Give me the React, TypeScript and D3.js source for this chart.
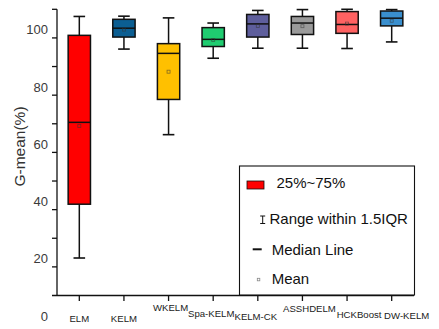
import * as d3 from 'd3'

const categories = ['ELM', 'KELM', 'WKELM', 'Spa-KELM', 'KELM-CK', 'ASSHDELM', 'HCKBoost', 'DW-KELM']
const whiskerLow = [23.1, 96.1, 66.2, 92.9, 96.4, 96.4, 96.3, 98.6]
const q1 = [41.9, 100.3, 78.5, 97.0, 100.3, 101.2, 101.6, 104.2]
const median = [70.5, 103.4, 94.6, 99.5, 104.9, 105.2, 104.7, 106.9]
const q3 = [100.9, 106.5, 98.0, 103.6, 108.2, 107.5, 109.2, 109.4]
const whiskerHigh = [107.5, 107.6, 107.0, 105.2, 109.6, 109.9, 110.0, 109.9]
const means = [69.2, 102.9, 88.2, 99.3, 104.2, 104.1, 105.0, 106.0]
const yMinorTicks = [20, 30, 40, 50, 60, 70, 80, 90, 100, 110]
const yLabelTicks = [0, 20, 40, 60, 80, 100]

const boxColors = ['#ff0000', '#0b5e92', '#ffc000', '#1fcc70', '#5e5e9c', '#9a9a9a', '#ff6262', '#3a8fce']
// staggered category labels as in the original figure
const labelDx = [0, 0, 2, -2, -2, 7, 12, 15]
const labelDy = [26, 26, 15, 21, 24, 16, 22, 23]

const FONT = '"Liberation Sans", Arial, sans-serif'

export default function App() {
  const width = 439
  const height = 329
  const plot = { left: 57, right: 414, top: 9.3, bottom: 295.5 }

  const x = d3
    .scaleBand<string>()
    .domain(categories)
    .range([plot.left, plot.right])
    .paddingInner(0.5)
    .paddingOuter(0.25)
  const y = d3.scaleLinear().domain([10, 110]).range([plot.bottom, plot.top])
  const bw = x.bandwidth()
  const cap = bw * 0.52

  return (
    <svg
      width={width}
      height={height}
      viewBox={`0 0 ${width} ${height}`}
      style={{ position: 'absolute', left: 0, top: 0, background: '#fff' }}
      fontFamily={FONT}
    >
      {/* y axis */}
      <line x1={plot.left} x2={plot.left} y1={plot.top} y2={plot.bottom} stroke="#111" strokeWidth="1.3" />
      {yMinorTicks.map((tick) => (
        <line key={tick} x1={plot.left - 5} x2={plot.left} y1={y(tick)} y2={y(tick)} stroke="#111" strokeWidth="1.3" />
      ))}
      {yLabelTicks.map((tick) => (
        <text
          key={tick}
          x={plot.left - 9}
          y={y(tick) - 8}
          dy="0.35em"
          textAnchor="end"
          fontSize="13"
          fill="#3a3a3a"
        >
          {tick}
        </text>
      ))}
      <text
        transform={`translate(19.5,146.5) rotate(-90)`}
        textAnchor="middle"
        dy="0.35em"
        fontSize="15.5"
        fill="#333"
      >
        G-mean(%)
      </text>

      {/* x axis */}
      <line x1={plot.left - 5} x2={plot.right} y1={plot.bottom} y2={plot.bottom} stroke="#111" strokeWidth="1.3" />
      {categories.map((cat, i) => {
        const cx = (x(cat) ?? 0) + bw / 2
        return (
          <g key={cat}>
            <line x1={cx} x2={cx} y1={plot.bottom} y2={plot.bottom + 5.5} stroke="#111" strokeWidth="1.3" />
            <text
              x={cx + labelDx[i]}
              y={plot.bottom + labelDy[i]}
              textAnchor="middle"
              fontSize="9.6"
              fill="#222"
            >
              {cat}
            </text>
          </g>
        )
      })}

      {/* boxes */}
      {categories.map((cat, i) => {
        const left = x(cat) ?? 0
        const cx = left + bw / 2
        return (
          <g key={cat}>
            <line x1={cx} x2={cx} y1={y(whiskerHigh[i])} y2={y(q3[i])} stroke="#111" strokeWidth="1.5" />
            <line x1={cx} x2={cx} y1={y(q1[i])} y2={y(whiskerLow[i])} stroke="#111" strokeWidth="1.5" />
            <line x1={cx - cap / 2} x2={cx + cap / 2} y1={y(whiskerHigh[i])} y2={y(whiskerHigh[i])} stroke="#111" strokeWidth="1.6" />
            <line x1={cx - cap / 2} x2={cx + cap / 2} y1={y(whiskerLow[i])} y2={y(whiskerLow[i])} stroke="#111" strokeWidth="1.6" />
            <rect
              x={left}
              y={y(q3[i])}
              width={bw}
              height={y(q1[i]) - y(q3[i])}
              fill={boxColors[i]}
              stroke="#111"
              strokeWidth="1.5"
            />
            <line x1={left} x2={left + bw} y1={y(median[i])} y2={y(median[i])} stroke="#111" strokeWidth="1.5" />
            <rect
              x={cx - 1.5}
              y={y(means[i]) - 1.5}
              width={3}
              height={3}
              fill="none"
              stroke="#333"
              strokeWidth="0.8"
              opacity="0.6"
            />
          </g>
        )
      })}

      {/* legend */}
      <g>
        <rect x={239.5} y={166} width={175} height={129} fill="#fff" stroke="#111" strokeWidth="1.1" />
        <rect x={247} y={181} width={17} height={8} fill="#ff0000" stroke="#111" strokeWidth="0.8" />
        <text x={276.5} y={188} fontSize="15" fill="#111">25%~75%</text>

        <line x1={262.7} x2={262.7} y1={216} y2={223.5} stroke="#111" strokeWidth="1" />
        <line x1={260.2} x2={265.2} y1={216} y2={216} stroke="#111" strokeWidth="1" />
        <line x1={260.2} x2={265.2} y1={223.5} y2={223.5} stroke="#111" strokeWidth="1" />
        <text x={269.5} y={223.5} fontSize="15" fill="#111">Range within 1.5IQR</text>

        <line x1={252.7} x2={261.7} y1={249.3} y2={249.3} stroke="#111" strokeWidth="2" />
        <text x={271.7} y={254.5} fontSize="15" fill="#111">Median Line</text>

        <rect x={257.3} y={278.3} width={2.5} height={2.5} fill="none" stroke="#888" strokeWidth="0.8" />
        <text x={271.7} y={283.5} fontSize="15" fill="#111">Mean</text>
      </g>
    </svg>
  )
}
